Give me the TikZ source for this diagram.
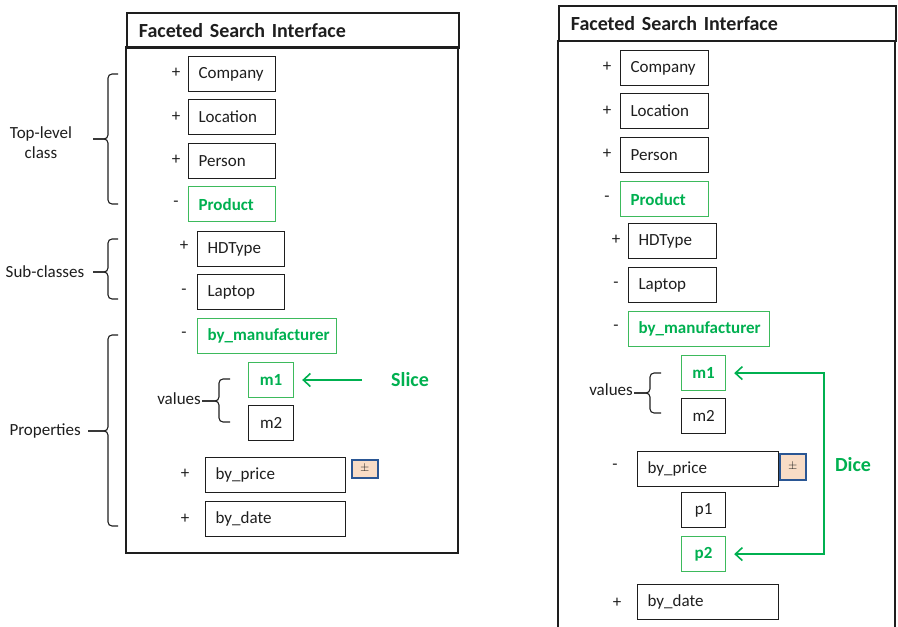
\documentclass[tikz,border=0pt]{standalone}
\usepackage{fontspec}
\setmainfont{Carlito}
\usetikzlibrary{arrows.meta}

\definecolor{ink}{HTML}{1E1E1E}
\definecolor{facetgreen}{HTML}{00B050}
\definecolor{edgegreen}{HTML}{3DBA5C}
\definecolor{peach}{HTML}{F8DCC6}
\definecolor{pmblue}{HTML}{2A5694}

\tikzset{
  bodyfont/.style={font=\fontsize{17}{20}\selectfont},
  facet/.style={draw=ink, line width=1.2pt, anchor=north west,
    minimum height=35pt, inner xsep=10pt, inner ysep=0pt,
    align=left, text=ink, bodyfont},
  cell/.style={facet, inner xsep=0pt, align=center},
  picked/.style={draw=edgegreen, text=facetgreen,
    font=\fontsize{17}{20}\selectfont\bfseries},
  sign/.style={text=ink, inner sep=0pt, bodyfont},
  pmbox/.style={draw=pmblue, fill=peach, line width=1.8pt, anchor=north west,
    inner sep=0pt, text=ink, font=\fontsize{13}{15}\selectfont},
  header/.style={draw=ink, line width=1.8pt, anchor=north west,
    minimum height=35pt, inner xsep=12pt, inner ysep=0pt, align=left,
    text=ink, font=\fontsize{20}{24}\selectfont\bfseries},
  frame/.style={draw=ink, line width=1.2pt},
  bracket/.style={draw=ink, line width=1.1pt, rounded corners=4pt},
  sidelabel/.style={text=ink, inner sep=0pt, bodyfont, align=center},
  opname/.style={text=facetgreen, inner sep=0pt,
    font=\fontsize{20}{24}\selectfont\bfseries},
  oparrow/.style={draw=facetgreen, line width=1.6pt,
    arrows={-Straight Barb[length=7pt,width=13pt,line width=1.6pt]}},
}

\begin{document}
\begin{tikzpicture}[x=1pt, y=-1pt]
\useasboundingbox (0,0) rectangle (898,627);

%% ---------- first panel: slicing ----------
\node[header, text width=308pt, minimum width=332pt] (lhead) at (126,12) {Faceted Search Interface};
\draw[frame] (126,47) rectangle (458,553);

\node[facet, text width=67pt] (lcompany)  at (188,56)  {Company};
\node[facet, text width=67pt] (llocation) at (188,99)  {Location};
\node[facet, text width=67pt] (lperson)   at (188,143) {Person};
\node[facet, picked, text width=67pt] (lproduct) at (188,186) {Product};
\node[facet, text width=67pt] (lhdtype)   at (197,231) {HDType};
\node[facet, text width=67pt] (llaptop)   at (197,274) {Laptop};
\node[facet, picked, text width=119pt] (lmanuf) at (197,318) {by\_manufacturer};
\node[cell, picked, text width=45pt] (lm1) at (248,362) {m1};
\node[cell, text width=45pt] (lm2) at (248,405) {m2};
\node[facet, text width=120pt] (lprice) at (205,457) {by\_price};
\node[pmbox, minimum width=26pt, minimum height=18pt] (lpm) at (351,459) {$\pm$};
\node[facet, text width=120pt] (ldate) at (205,501) {by\_date};

\node[sign] (sa1) at (176,73)  {+};
\node[sign] (sa2) at (176,117) {+};
\node[sign] (sa3) at (176,160) {+};
\node[sign] (sa4) at (176,204) {-};
\node[sign] (sa5) at (184,246) {+};
\node[sign] (sa6) at (184,292) {-};
\node[sign] (sa7) at (184,335) {-};
\node[sign] (sa8) at (185,474) {+};
\node[sign] (sa9) at (185,519) {+};

% grouping braces on the left
\node[sidelabel] (ltop) at (41,143) {Top-level\\class};
\draw[bracket] (118,74) -| (108,139) -- (93,139);
\draw[bracket] (118,204) -| (108,139) -- (93,139);

\node[sidelabel] (lsub) at (45,272) {Sub-classes};
\draw[bracket] (118,239) -| (108,272) -- (93,272);
\draw[bracket] (118,299) -| (108,272) -- (93,272);

\node[sidelabel, anchor=east] (lprop) at (81,431) {Properties};
\draw[bracket] (118,335) -| (108,431) -- (88,431);
\draw[bracket] (118,526) -| (108,431) -- (88,431);

\node[sidelabel, anchor=east] (lvalues) at (201,399) {values};
\draw[bracket] (230,379) -| (219,401) -- (202,401);
\draw[bracket] (230,422) -| (219,401) -- (202,401);

% slice operation
\node[opname] (slice) at (410,380) {Slice};
\coordinate (slicefrom) at (362,380);
\draw[oparrow, shorten >=8pt] (slicefrom) -- (lm1.east |- slicefrom);

%% ---------- second panel: dicing ----------
\node[header, text width=313pt, minimum width=337pt] (rhead) at (558,5) {Faceted Search Interface};
\draw[frame] (558,40) -- (558,627);
\draw[frame] (895,40) -- (895,627);

\node[facet, text width=68pt] (rcompany)  at (620,50)  {Company};
\node[facet, text width=68pt] (rlocation) at (620,93)  {Location};
\node[facet, text width=68pt] (rperson)   at (620,137) {Person};
\node[facet, picked, text width=68pt] (rproduct) at (620,181) {Product};
\node[facet, text width=68pt] (rhdtype)   at (628,223) {HDType};
\node[facet, text width=68pt] (rlaptop)   at (628,267) {Laptop};
\node[facet, picked, text width=121pt] (rmanuf) at (628,311) {by\_manufacturer};
\node[cell, picked, text width=44pt] (rm1) at (681,355) {m1};
\node[cell, text width=44pt] (rm2) at (681,398) {m2};
\node[facet, text width=121pt] (rprice) at (637,451) {by\_price};
\node[pmbox, minimum width=26pt, minimum height=26pt] (rpm) at (779,453) {$\pm$};
\node[cell, text width=44pt] (rp1) at (681,492) {p1};
\node[cell, picked, text width=44pt] (rp2) at (681,536) {p2};
\node[facet, text width=121pt] (rdate) at (637,584) {by\_date};

\node[sign] (sb1) at (607,67)  {+};
\node[sign] (sb2) at (607,111) {+};
\node[sign] (sb3) at (607,154) {+};
\node[sign] (sb4) at (607,199) {-};
\node[sign] (sb5) at (616,240) {+};
\node[sign] (sb6) at (616,285) {-};
\node[sign] (sb7) at (616,328) {-};
\node[sign] (sb8) at (615,467) {-};
\node[sign] (sb9) at (617,603) {+};

\node[sidelabel, anchor=east] (rvalues) at (633,390) {values};
\draw[bracket] (661,373) -| (650,393) -- (634,393);
\draw[bracket] (661,413) -| (650,393) -- (634,393);

% dice operation
\node[opname] (dice) at (853,465) {Dice};
\coordinate (dicex) at (824,0);
\draw[oparrow, arrows={Straight Barb[length=7pt,width=13pt,line width=1.6pt]-Straight Barb[length=7pt,width=13pt,line width=1.6pt]},
      shorten <=8pt, shorten >=8pt]
  (rm1.east) -- (rm1.east -| dicex) -- (rp2.east -| dicex) -- (rp2.east);
\end{tikzpicture}
\end{document}
